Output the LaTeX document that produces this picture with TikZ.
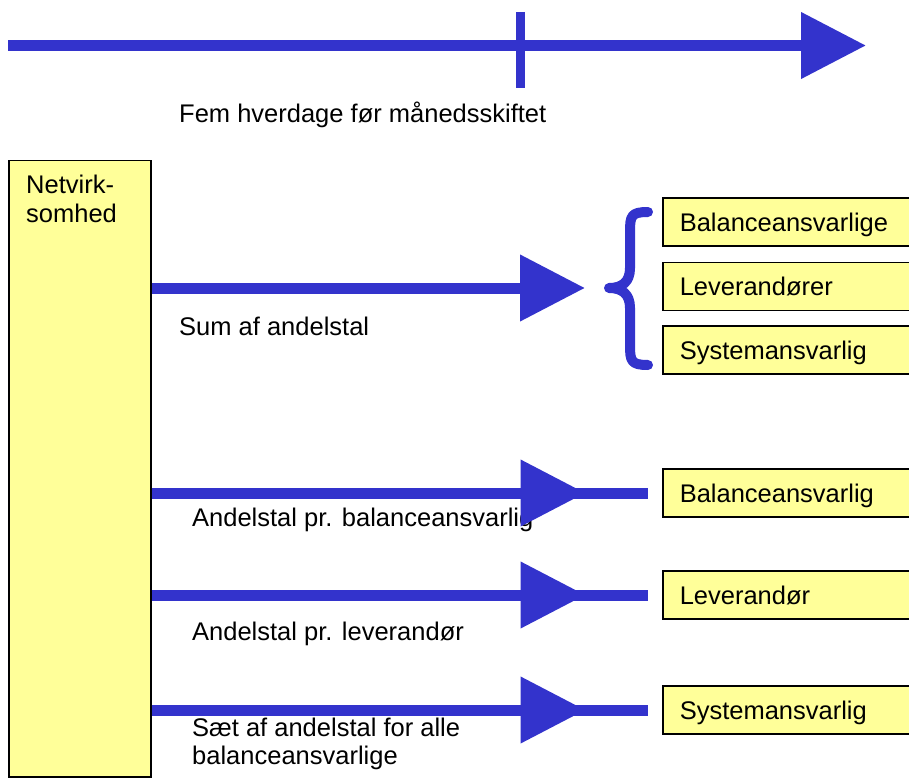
\documentclass[tikz,border=0pt]{standalone}
\usepackage{fontspec}
\setmainfont{Liberation Sans}
\usetikzlibrary{arrows.meta,decorations.markings,calc}
\definecolor{arrowblue}{RGB}{51,51,204}
\definecolor{boxyellow}{RGB}{255,255,153}
\begin{document}
\begin{tikzpicture}[x=1pt,y=-1pt,
  font=\fontsize{25.5}{28.5}\selectfont,
  bigarrow/.style={color=arrowblue, line width=11pt, -{Triangle[length=65pt,width=64pt]}},
  bar/.style={color=arrowblue, line width=11pt},
  midhead/.style={postaction={decorate}, decoration={markings,
      mark=at position #1 with {\arrow[color=arrowblue]{Triangle[length=65pt,width=64pt]}}}},
  bracestyle/.style={draw=arrowblue, line width=10pt, line cap=round, line join=round},
  label/.style={inner sep=0pt, anchor=base west},
  mlabel/.style={inner sep=0pt, anchor=north west, align=left},
  rbox/.style={draw=black, line width=1.5pt, fill=boxyellow, anchor=west,
      minimum height=48pt, text width=226pt, inner xsep=17pt, align=left,
      text height=18.3pt, text depth=0pt},
  bigbox/.style={draw=black, line width=1.5pt, fill=boxyellow, anchor=north west,
      minimum width=142pt, minimum height=616pt, inner sep=0pt}
]
\useasboundingbox (0,0) rectangle (909,778);
\clip (0,0) rectangle (909,778);

% timeline
\coordinate (t0) at (8,45.5);
\coordinate (t1) at (866,45.5);
\coordinate (k0) at (520,12);
\coordinate (k1) at (520,88);
\draw[bigarrow] (t0) -- (t1);
\draw[bar, line width=9pt] (k0) -- (k1);
\node[label] (fem) at (179,122.7) {Fem hverdage før månedsskiftet};

% left box
\node[bigbox] (nv) at (8,160) {};
\node[mlabel] (nvt) at (26,175) {Netvirk-\\somhed};

% brace
\coordinate (bt) at (604,288);
\draw[bracestyle] (648,212) .. controls (631,212) and (630,216) .. (630,232)
  -- (630,268) .. controls (630,282) and (622,288) .. (609,288)
  .. controls (622,288) and (630,294) .. (630,308)
  -- (630,345) .. controls (630,361) and (631,365) .. (648,365);

% right boxes (top group)
\node[rbox] (b1) at (662,222) {Balanceansvarlige};
\node[rbox] (b2) at (662,286.5) {Leverandører};
\node[rbox] (b3) at (662,350) {Systemansvarlig};

% right boxes (bottom group)
\node[rbox] (c1) at (662,493) {Balanceansvarlig};
\node[rbox] (c2) at (662,595) {Leverandør};
\node[rbox] (c3) at (662,710) {Systemansvarlig};

% labels
\node[label] (l1) at (179,335) {Sum af andelstal};
\node[label] (l2) at (192,526) {Andelstal pr. balanceansvarlig};
\node[label] (l3) at (192,640) {Andelstal pr. leverandør};
\node[mlabel] (l4) at (192,717.7) {Sæt af andelstal for alle\\balanceansvarlige};

% arrows
\draw[bigarrow] (nv.east |- bt) -- ($(bt)+(-19,0)$);
\draw[bar, shorten >=14pt, midhead=434pt] (nv.east |- c1.west) -- (c1.west);
\draw[bar, shorten >=14pt, midhead=434pt] (nv.east |- c2.west) -- (c2.west);
\draw[bar, shorten >=14pt, midhead=434pt] (nv.east |- c3.west) -- (c3.west);
\end{tikzpicture}
\end{document}
